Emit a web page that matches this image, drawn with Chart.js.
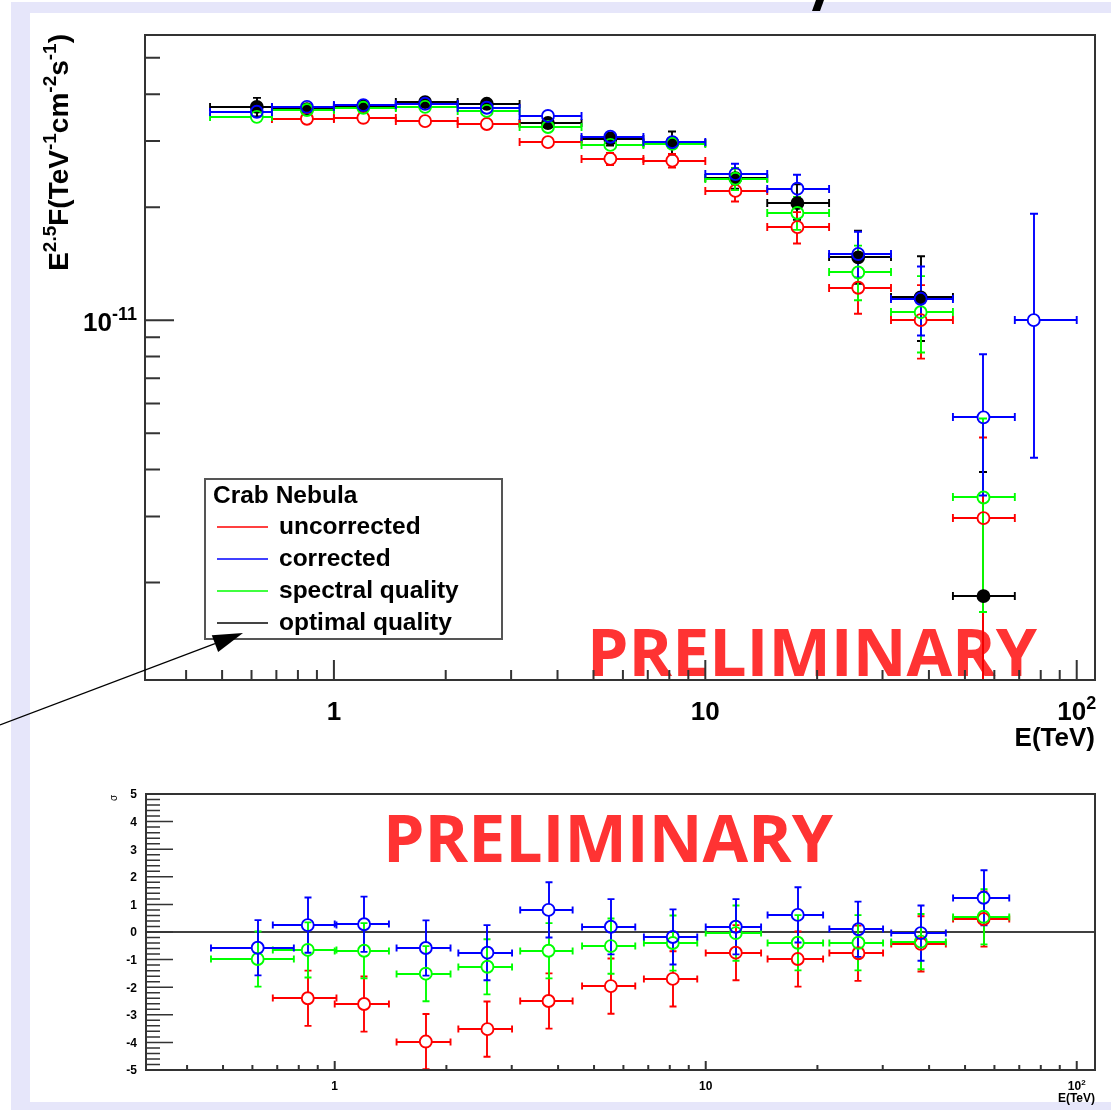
<!DOCTYPE html>
<html>
<head>
<meta charset="utf-8">
<title>Crab Nebula spectrum</title>
<script src="https://cdn.jsdelivr.net/npm/chart.js@4.4.1/dist/chart.umd.min.js"></script>
<style>
    body { margin: 0; background: #fff; }
    #page { position: relative; width: 1111px; height: 1110px; overflow: hidden; background: #fff; }
    #border { position: absolute; left: 11px; top: 2px; right: 0; bottom: 0; background: #e6e6fa; }
    #panel { position: absolute; left: 30px; top: 13px; width: 1081px; height: 1089px; background: #fff; }
    canvas { position: absolute; left: 0; }
    #spectrum { top: 0; }
    #residuals { top: 780px; }
</style>
</head>
<body>
<div id="page">
    <div id="border"></div>
    <div id="panel"></div>
    <canvas id="spectrum" width="1111" height="780"></canvas>
    <canvas id="residuals" width="1111" height="330"></canvas>
</div>
<script>
// mean energy of each bin (TeV) and the bin edges
const energy = [0.62, 0.846, 1.2, 1.76, 2.58, 3.77, 5.55, 8.15, 12.05, 17.7, 25.8, 38.0, 56.1, 76.6];
const binEdges = [0.464, 0.681, 1.0, 1.468, 2.154, 3.162, 4.642, 6.813, 10.0, 14.68, 21.54, 31.62, 46.42, 68.13, 100.0];

const seriesLabels = ['uncorrected', 'corrected', 'spectral quality', 'optimal quality'];
const seriesColors = ['#ff0000', '#0000ff', '#00ff00', '#000000'];
const legendTitle = 'Crab Nebula';

// E^2.5 F in units of 1e-11 TeV^-1 cm^-2 s^-1
const fluxUncorrected = [null, 3.44, 3.46, 3.39, 3.33, 2.98, 2.69, 2.66, 2.21, 1.77, 1.22, 1.00, 0.297, null];
const fluxCorrected   = [3.59, 3.70, 3.74, 3.77, 3.68, 3.50, 3.08, 2.98, 2.45, 2.24, 1.50, 1.14, 0.551, 1.00];
const fluxSpectral    = [3.48, 3.63, 3.68, 3.70, 3.61, 3.27, 2.93, 2.95, 2.38, 1.93, 1.34, 1.05, 0.337, null];
const fluxOptimal     = [3.70, 3.65, 3.72, 3.81, 3.77, 3.35, 3.04, 2.97, 2.39, 2.05, 1.47, 1.15, 0.184, null];

// [up, down] flux errors, same units
const errUncorrected = [null, [0.08, 0.08], [0.08, 0.08], [0.08, 0.08], [0.08, 0.08], [0.08, 0.08], [0.10, 0.10],
    [0.11, 0.11], [0.15, 0.14], [0.17, 0.17], [0.21, 0.18], [0.24, 0.21], [0.19, 0.29], null];
const errCorrected = [[0.07, 0.07], [0.07, 0.07], [0.07, 0.07], [0.07, 0.07], [0.07, 0.07], [0.07, 0.07], [0.10, 0.10],
    [0.10, 0.10], [0.16, 0.15], [0.20, 0.19], [0.22, 0.20], [0.25, 0.23], [0.26, 0.21], [0.92, 0.57]];
const errSpectral = [[0.07, 0.07], [0.07, 0.07], [0.07, 0.07], [0.07, 0.07], [0.07, 0.07], [0.07, 0.07], [0.10, 0.10],
    [0.10, 0.10], [0.16, 0.16], [0.20, 0.19], [0.24, 0.21], [0.26, 0.23], [0.21, 0.17], null];
const errOptimal = [[0.21, 0.21], [0.07, 0.07], [0.07, 0.07], [0.07, 0.07], [0.07, 0.07], [0.07, 0.07], [0.12, 0.12],
    [0.21, 0.21], [0.15, 0.15], [0.25, 0.20], [0.26, 0.22], [0.33, 0.27], [0.21, 0.18], null];

// residuals in sigma, each with a 1 sigma error
const sigmaUncorrected = [null, -2.40, -2.61, -3.97, -3.52, -2.50, -1.96, -1.70, -0.75, -0.98, -0.77, -0.43, 0.47];
const sigmaCorrected   = [-0.57, 0.25, 0.28, -0.58, -0.75, 0.80, 0.19, -0.18, 0.19, 0.62, 0.10, -0.04, 1.24];
const sigmaSpectral    = [-0.98, -0.65, -0.68, -1.51, -1.26, -0.68, -0.51, -0.40, -0.04, -0.39, -0.39, -0.35, 0.55];
const sigmaError = 1;

// axis ranges and ticks
const energyRange = [0.31, 112];
const fluxRange = [1.1e-12, 5.75e-11];
const xMajorTicks = [1, 10, 100];
const xTickLabels = [['1', ''], ['10', ''], ['10', '2']];
const xMinorTicks = [0.4, 0.5, 0.6, 0.7, 0.8, 0.9, 2, 3, 4, 5, 6, 7, 8, 9, 20, 30, 40, 50, 60, 70, 80, 90];
const yMajorTicks = [1e-11];
const yTickLabels = [['10', '-11']];
const yMinorTicks = [2e-12, 3e-12, 4e-12, 5e-12, 6e-12, 7e-12, 8e-12, 9e-12, 2e-11, 3e-11, 4e-11, 5e-11];
const sigmaTicks = [-5, -4, -3, -2, -1, 0, 1, 2, 3, 4, 5];

const xTitle = 'E(TeV)';
const yTitle = [['E', ''], ['', '2.5'], ['F(TeV', ''], ['', '-1'], ['cm', ''], ['', '-2'], ['s', ''], ['', '-1'], [')', '']];
const sigmaTitle = 'σ';
const stamp = 'PRELIMINARY';

const FONT = '"Liberation Sans", Arial, Helvetica, sans-serif';
const AXIS = '#333';
const LINE = 1.9;

function fluxPoints(values, errors) {
    const pts = [];
    values.forEach((v, i) => {
        if (v === null) return;
        pts.push({
            x: energy[i], y: v * 1e-11,
            xLow: binEdges[i], xHigh: binEdges[i + 1],
            yHigh: (v + errors[i][0]) * 1e-11, yLow: (v - errors[i][1]) * 1e-11
        });
    });
    return pts;
}

// residual points carry a symmetric energy error reaching down to the bin edge
function sigmaPoints(values) {
    const pts = [];
    values.forEach((v, i) => {
        if (v === null) return;
        const dE = energy[i] - binEdges[i];
        pts.push({
            x: energy[i], y: v,
            xLow: energy[i] - dE, xHigh: energy[i] + dE,
            yHigh: v + sigmaError, yLow: v - sigmaError
        });
    });
    return pts;
}

function markerSet(label, color, data, filled, order) {
    return {
        label: label,
        data: data,
        borderColor: color,
        backgroundColor: filled ? color : 'rgba(0,0,0,0)',
        pointRadius: 6,
        pointHoverRadius: 6,
        pointBorderWidth: LINE,
        showLine: false,
        order: order
    };
}

// the log scale rounds its limits; pin them back
function fixedRange(lo, hi) {
    return scale => { scale.min = lo; scale.max = hi; };
}

// text with superscripts: runs of [normal, superscript]
function runsWidth(ctx, runs, size) {
    let w = 0;
    runs.forEach(([base, sup]) => {
        ctx.font = 'bold ' + size + 'px ' + FONT;
        w += ctx.measureText(base).width;
        ctx.font = 'bold ' + Math.round(size * 0.68) + 'px ' + FONT;
        w += ctx.measureText(sup).width;
    });
    return w;
}

function drawRuns(ctx, runs, x, y, size, align) {
    const total = runsWidth(ctx, runs, size);
    let cx = align === 'right' ? x - total : align === 'center' ? x - total / 2 : x;
    ctx.textAlign = 'left';
    ctx.textBaseline = 'alphabetic';
    runs.forEach(([base, sup]) => {
        ctx.font = 'bold ' + size + 'px ' + FONT;
        ctx.fillText(base, cx, y);
        cx += ctx.measureText(base).width;
        ctx.font = 'bold ' + Math.round(size * 0.68) + 'px ' + FONT;
        ctx.fillText(sup, cx, y - size * 0.42);
        cx += ctx.measureText(sup).width;
    });
}

function drawErrorBars(chart, drawOrder, cap) {
    const {ctx, chartArea, scales: {x, y}} = chart;
    ctx.save();
    ctx.beginPath();
    ctx.rect(chartArea.left, chartArea.top, chartArea.right - chartArea.left, chartArea.bottom - chartArea.top);
    ctx.clip();
    ctx.lineWidth = LINE;
    drawOrder.forEach(di => {
        const ds = chart.data.datasets[di];
        const meta = chart.getDatasetMeta(di);
        const r = ds.pointRadius;
        ctx.strokeStyle = ds.borderColor;
        meta.data.forEach((pt, i) => {
            const raw = ds.data[i];
            const px = Math.round(pt.x), py = Math.round(pt.y);
            const xl = x.getPixelForValue(raw.xLow);
            const xh = x.getPixelForValue(raw.xHigh);
            const yt = y.getPixelForValue(raw.yHigh);
            const yb = raw.yLow > 0 || y.type !== 'logarithmic' ? y.getPixelForValue(raw.yLow) : chartArea.bottom + 50;
            ctx.beginPath();
            if (xl < px - r) {
                ctx.moveTo(xl, py); ctx.lineTo(px - r, py);
                ctx.moveTo(xl, py - cap); ctx.lineTo(xl, py + cap);
            }
            if (xh > px + r) {
                ctx.moveTo(px + r, py); ctx.lineTo(xh, py);
                ctx.moveTo(xh, py - cap); ctx.lineTo(xh, py + cap);
            }
            if (yt < py - r) {
                ctx.moveTo(px, py - r); ctx.lineTo(px, yt);
                ctx.moveTo(px - cap, yt); ctx.lineTo(px + cap, yt);
            }
            if (yb > py + r) {
                ctx.moveTo(px, py + r); ctx.lineTo(px, yb);
                ctx.moveTo(px - cap, yb); ctx.lineTo(px + cap, yb);
            }
            ctx.stroke();
        });
    });
    ctx.restore();
}

function drawStamp(ctx, left, baseline, width) {
    ctx.save();
    ctx.font = 'bold 67px "Open Sans", Roboto, sans-serif';
    const sx = width / ctx.measureText(stamp).width;
    ctx.fillStyle = '#ff3333';
    ctx.textAlign = 'left';
    ctx.textBaseline = 'alphabetic';
    ctx.translate(left, baseline);
    ctx.scale(sx, 1);
    ctx.fillText(stamp, 0, 0);
    ctx.restore();
}

function drawFrame(ctx, area) {
    ctx.strokeStyle = AXIS;
    ctx.lineWidth = 2;
    ctx.strokeRect(area.left, area.top, area.right - area.left, area.bottom - area.top);
}

function drawXTicks(ctx, chart, majorLen, minorLen) {
    const {chartArea, scales: {x}} = chart;
    ctx.strokeStyle = AXIS;
    ctx.lineWidth = 2;
    ctx.beginPath();
    xMinorTicks.forEach(v => {
        const p = x.getPixelForValue(v);
        ctx.moveTo(p, chartArea.bottom); ctx.lineTo(p, chartArea.bottom - minorLen);
    });
    xMajorTicks.forEach(v => {
        const p = x.getPixelForValue(v);
        ctx.moveTo(p, chartArea.bottom); ctx.lineTo(p, chartArea.bottom - majorLen);
    });
    ctx.stroke();
}

function drawXLabels(ctx, chart, size, baseline, titleBaseline) {
    const {chartArea, scales: {x}} = chart;
    ctx.fillStyle = '#000';
    xMajorTicks.forEach((v, i) => {
        drawRuns(ctx, [xTickLabels[i]], x.getPixelForValue(v), baseline, size, 'center');
    });
    drawRuns(ctx, [[xTitle, '']], chartArea.right, titleBaseline, size, 'right');
}

const spectrumPlugin = {
    id: 'spectrumDecor',
    beforeDatasetsDraw(chart) {
        drawStamp(chart.ctx, 587, 676, 450);
        drawErrorBars(chart, [3, 0, 2, 1], 4);
    },
    afterDraw(chart) {
        const {ctx, chartArea, scales: {y}} = chart;
        ctx.save();
        drawFrame(ctx, chartArea);
        drawXTicks(ctx, chart, 20, 10);

        // log y ticks on the left axis
        ctx.beginPath();
        yMinorTicks.forEach(v => {
            const p = y.getPixelForValue(v);
            ctx.moveTo(chartArea.left, p); ctx.lineTo(chartArea.left + 15, p);
        });
        yMajorTicks.forEach(v => {
            const p = y.getPixelForValue(v);
            ctx.moveTo(chartArea.left, p); ctx.lineTo(chartArea.left + 29, p);
        });
        ctx.stroke();

        drawXLabels(ctx, chart, 26, 720, 746);
        yMajorTicks.forEach((v, i) => {
            drawRuns(ctx, [yTickLabels[i]], 137, y.getPixelForValue(v) + 11, 26, 'right');
        });

        // rotated y title, ending at the top of the axis
        ctx.save();
        ctx.translate(68, 34);
        ctx.rotate(-Math.PI / 2);
        drawRuns(ctx, yTitle, 0, 0, 28, 'right');
        ctx.restore();

        // legend box
        const lx = 205, ly = 479, lw = 297, lh = 160;
        ctx.fillStyle = '#fff';
        ctx.fillRect(lx, ly, lw, lh);
        ctx.strokeStyle = '#555';
        ctx.lineWidth = 2;
        ctx.strokeRect(lx, ly, lw, lh);
        ctx.fillStyle = '#000';
        ctx.font = 'bold 24.5px ' + FONT;
        ctx.textAlign = 'left';
        ctx.textBaseline = 'middle';
        ctx.fillText(legendTitle, 213, 496);
        seriesLabels.forEach((label, i) => {
            const rowY = 527 + i * 32;
            ctx.strokeStyle = i === 3 ? '#444' : seriesColors[i];
            ctx.lineWidth = i === 3 ? 2 : 1.5;
            ctx.beginPath();
            ctx.moveTo(217, rowY); ctx.lineTo(268, rowY);
            ctx.stroke();
            ctx.fillStyle = '#000';
            ctx.fillText(label, 279, rowY);
        });

        // pointer arrow into the legend
        const tipX = 243, tipY = 633, tailX = 0, tailY = 725;
        const len = Math.hypot(tipX - tailX, tipY - tailY);
        const ux = (tipX - tailX) / len, uy = (tipY - tailY) / len;
        const baseX = tipX - ux * 30, baseY = tipY - uy * 30;
        ctx.strokeStyle = '#000';
        ctx.lineWidth = 1.2;
        ctx.beginPath();
        ctx.moveTo(tailX, tailY); ctx.lineTo(baseX, baseY);
        ctx.stroke();
        ctx.fillStyle = '#000';
        ctx.beginPath();
        ctx.moveTo(tipX, tipY);
        ctx.lineTo(baseX - uy * 9, baseY + ux * 9);
        ctx.lineTo(baseX + uy * 9, baseY - ux * 9);
        ctx.closePath();
        ctx.fill();

        // stroke of a title cut off at the top edge
        ctx.beginPath();
        ctx.moveTo(812, 11); ctx.lineTo(820, 11); ctx.lineTo(824, 0); ctx.lineTo(816, 0);
        ctx.closePath();
        ctx.fill();
        ctx.restore();
    }
};

const residualPlugin = {
    id: 'residualDecor',
    beforeDatasetsDraw(chart) {
        drawStamp(chart.ctx, 383, 82, 450);
        const {ctx, chartArea, scales: {y}} = chart;
        const zero = y.getPixelForValue(0);
        ctx.save();
        ctx.strokeStyle = '#000';
        ctx.lineWidth = 1.5;
        ctx.beginPath();
        ctx.moveTo(chartArea.left, zero); ctx.lineTo(chartArea.right, zero);
        ctx.stroke();
        ctx.restore();
        drawErrorBars(chart, [0, 2, 1], 3.5);
    },
    afterDraw(chart) {
        const {ctx, chartArea, scales: {y}} = chart;
        ctx.save();
        drawFrame(ctx, chartArea);
        drawXTicks(ctx, chart, 9, 5);

        ctx.lineWidth = 1.5;
        ctx.beginPath();
        for (let s = -50; s <= 50; s += 2) {
            const p = y.getPixelForValue(s / 10);
            const len = s % 10 === 0 ? 27 : 14;
            ctx.moveTo(chartArea.left, p); ctx.lineTo(chartArea.left + len, p);
        }
        ctx.stroke();

        ctx.fillStyle = '#000';
        ctx.font = 'bold 12px ' + FONT;
        ctx.textAlign = 'right';
        ctx.textBaseline = 'middle';
        sigmaTicks.forEach(v => ctx.fillText(String(v), 137, y.getPixelForValue(v) + 1));

        drawXLabels(ctx, chart, 12, 310, 322);

        ctx.save();
        ctx.translate(117, 18);
        ctx.rotate(-Math.PI / 2);
        ctx.font = '10px ' + FONT;
        ctx.textAlign = 'center';
        ctx.textBaseline = 'alphabetic';
        ctx.fillText(sigmaTitle, 0, 0);
        ctx.restore();
        ctx.restore();
    }
};

const commonOptions = {
    responsive: false,
    animation: false,
    events: [],
    plugins: { legend: { display: false }, tooltip: { enabled: false } }
};

// open circles are drawn over the filled black ones, blue last
new Chart(document.getElementById('spectrum'), {
    type: 'scatter',
    data: {
        datasets: [
            markerSet(seriesLabels[0], seriesColors[0], fluxPoints(fluxUncorrected, errUncorrected), false, 2),
            markerSet(seriesLabels[1], seriesColors[1], fluxPoints(fluxCorrected, errCorrected), false, 0),
            markerSet(seriesLabels[2], seriesColors[2], fluxPoints(fluxSpectral, errSpectral), false, 1),
            markerSet(seriesLabels[3], seriesColors[3], fluxPoints(fluxOptimal, errOptimal), true, 3)
        ]
    },
    options: Object.assign({}, commonOptions, {
        layout: { padding: { left: 145, top: 35, right: 16, bottom: 100 } },
        scales: {
            x: { type: 'logarithmic', min: energyRange[0], max: energyRange[1], display: false,
                 afterBuildTicks: fixedRange(energyRange[0], energyRange[1]) },
            y: { type: 'logarithmic', min: fluxRange[0], max: fluxRange[1], display: false,
                 afterBuildTicks: fixedRange(fluxRange[0], fluxRange[1]) }
        }
    }),
    plugins: [spectrumPlugin]
});

new Chart(document.getElementById('residuals'), {
    type: 'scatter',
    data: {
        datasets: [
            markerSet(seriesLabels[0], seriesColors[0], sigmaPoints(sigmaUncorrected), false, 2),
            markerSet(seriesLabels[1], seriesColors[1], sigmaPoints(sigmaCorrected), false, 0),
            markerSet(seriesLabels[2], seriesColors[2], sigmaPoints(sigmaSpectral), false, 1)
        ]
    },
    options: Object.assign({}, commonOptions, {
        layout: { padding: { left: 146, top: 14, right: 16, bottom: 40 } },
        scales: {
            x: { type: 'logarithmic', min: energyRange[0], max: energyRange[1], display: false,
                 afterBuildTicks: fixedRange(energyRange[0], energyRange[1]) },
            y: { type: 'linear', min: -5, max: 5, display: false }
        }
    }),
    plugins: [residualPlugin]
});
</script>
</body>
</html>
